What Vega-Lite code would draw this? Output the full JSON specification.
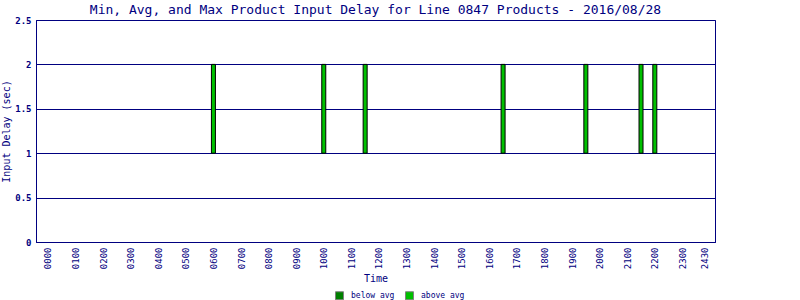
{
  "$schema": "https://vega.github.io/schema/vega-lite/v6.json",
  "width": 679,
  "height": 222,
  "autosize": {"type": "none"},
  "padding": {"left": 36, "top": 20, "right": 85, "bottom": 58},
  "background": "white",
  "title": {
    "text": "Min, Avg, and Max Product Input Delay for Line 0847 Products - 2016/08/28",
    "font": "DejaVu Sans Mono",
    "fontSize": 13,
    "fontWeight": "normal",
    "color": "#000080",
    "anchor": "middle",
    "offset": -1
  },
  "config": {
    "view": {"stroke": "#000080", "strokeWidth": 1},
    "axis": {
      "labelFont": "DejaVu Sans Mono",
      "titleFont": "DejaVu Sans Mono",
      "labelColor": "#000080",
      "titleColor": "#000080",
      "domainColor": "#000080",
      "titleFontWeight": "normal"
    }
  },
  "data": {
    "values": [
      {"hour": 6.0, "low": 1, "high": 2, "category": "above avg"},
      {"hour": 10.0, "low": 1, "high": 2, "category": "above avg"},
      {"hour": 11.5, "low": 1, "high": 2, "category": "above avg"},
      {"hour": 16.5, "low": 1, "high": 2, "category": "above avg"},
      {"hour": 19.5, "low": 1, "high": 2, "category": "above avg"},
      {"hour": 21.5, "low": 1, "high": 2, "category": "above avg"},
      {"hour": 22.0, "low": 1, "high": 2, "category": "above avg"}
    ]
  },
  "mark": {"type": "bar", "size": 4, "stroke": "black", "strokeWidth": 1},
  "encoding": {
    "x": {
      "field": "hour",
      "type": "quantitative",
      "scale": {"domain": [-0.25, 24], "nice": false, "zero": false},
      "axis": {
        "title": "Time",
        "titleFontSize": 10,
        "titlePadding": 5,
        "values": [0,1,2,3,4,5,6,7,8,9,10,11,12,13,14,15,16,17,18,19,20,21,22,23,23.79],
        "labelExpr": "datum.value > 23.5 ? '2430' : (datum.value < 10 ? '0' + datum.value + '00' : datum.value + '00')",
        "labelAngle": 270,
        "labelFontSize": 9,
        "labelPadding": 5,
        "ticks": false,
        "grid": false
      }
    },
    "y": {
      "field": "low",
      "type": "quantitative",
      "scale": {"domain": [0, 2.5], "nice": false},
      "axis": {
        "title": "Input Delay (sec)",
        "titleFontSize": 10,
        "titlePadding": 3,
        "values": [0, 0.5, 1, 1.5, 2, 2.5],
        "labelExpr": "'' + datum.value",
        "labelFontSize": 9,
        "labelFontWeight": "bold",
        "labelPadding": 5,
        "ticks": false,
        "grid": true,
        "gridColor": "#000080",
        "gridOpacity": 1
      }
    },
    "y2": {"field": "high"},
    "color": {
      "field": "category",
      "type": "nominal",
      "scale": {"domain": ["below avg", "above avg"], "range": ["#008000", "#00c000"]},
      "legend": {
        "title": null,
        "orient": "none",
        "direction": "horizontal",
        "legendX": 299,
        "legendY": 271,
        "padding": 0,
        "symbolType": "square",
        "symbolSize": 64,
        "symbolStrokeColor": "#808080",
        "symbolStrokeWidth": 1,
        "symbolOpacity": 1,
        "labelFont": "DejaVu Sans Mono",
        "labelFontSize": 8,
        "labelColor": "#000080",
        "labelOffset": 7,
        "columnPadding": 8
      }
    }
  }
}
